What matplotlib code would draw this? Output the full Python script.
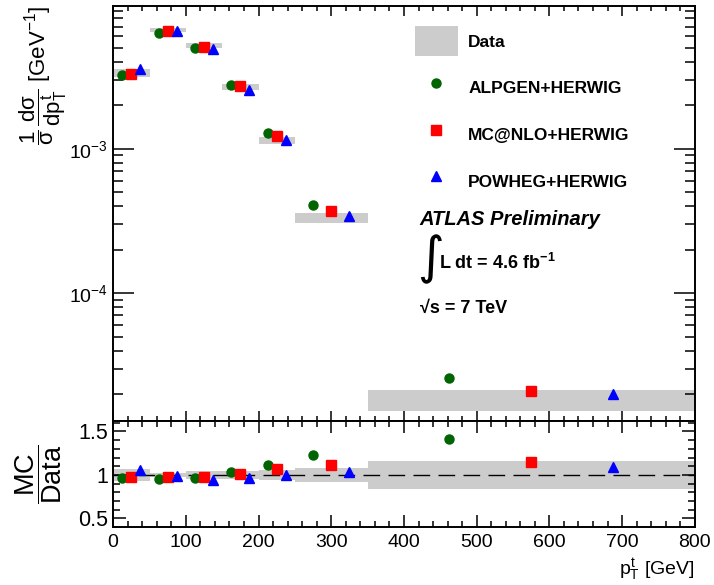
import numpy as np
import matplotlib
matplotlib.use('Agg')
import matplotlib.pyplot as plt
from matplotlib.patches import Patch
from matplotlib.lines import Line2D
from matplotlib.ticker import LogLocator, MultipleLocator, FixedLocator, NullFormatter

plt.rcParams['font.family'] = ['Liberation Sans', 'DejaVu Sans']
plt.rcParams['mathtext.fontset'] = 'custom'
plt.rcParams['mathtext.rm'] = 'Liberation Sans'
plt.rcParams['mathtext.it'] = 'Liberation Sans'
plt.rcParams['mathtext.sf'] = 'Liberation Sans'
plt.rcParams['mathtext.bf'] = 'Liberation Sans:bold'

# top-quark pT bins [GeV] and normalised cross section
bin_edges = [0, 50, 100, 150, 200, 250, 350, 800]
data_xsec = [3.37e-3, 6.65e-3, 5.19e-3, 2.67e-3, 1.144e-3, 3.33e-4, 1.83e-5]
data_relerr = [0.066, 0.027, 0.044, 0.046, 0.061, 0.083, 0.165]

# MC / Data
ratio_alpgen = [0.962, 0.954, 0.962, 1.031, 1.119, 1.234, 1.408]
ratio_mcatnlo = [0.981, 0.977, 0.977, 1.015, 1.069, 1.115, 1.146]
ratio_powheg = [1.061, 0.992, 0.946, 0.962, 1.000, 1.031, 1.088]

generators = [
    ('ALPGEN+HERWIG', ratio_alpgen, 'o', '#006400', 0.25),
    ('MC@NLO+HERWIG', ratio_mcatnlo, 's', '#ff0000', 0.50),
    ('POWHEG+HERWIG', ratio_powheg, '^', '#0000ff', 0.75),
]
band_color = '#cccccc'

edges = np.array(bin_edges, dtype=float)
lo = edges[:-1]
width = np.diff(edges)
xs = np.array(data_xsec)
err = np.array(data_relerr)

fig = plt.figure(figsize=(7.14, 5.85), dpi=100)
ax = fig.add_axes([0.1585, 0.2803, 0.8146, 0.7094])
axr = fig.add_axes([0.1585, 0.0991, 0.8146, 0.1812], sharex=ax)

# main panel
ax.bar(lo, 2 * err * xs, bottom=xs * (1 - err), width=width, align='edge',
       color=band_color, linewidth=0, zorder=1)
for name, ratio, mk, col, frac in generators:
    ax.plot(lo + frac * width, xs * np.array(ratio), ls='none', marker=mk,
            ms=7 if mk != 'o' else 6.5, color=col, mec=col, zorder=3)

ax.set_yscale('log')
ax.set_ylim(1.30e-5, 9.75e-3)
ax.set_xlim(0, 800)
ax.yaxis.set_major_locator(FixedLocator([1e-5, 1e-4, 1e-3, 1e-2]))
ax.yaxis.set_minor_locator(LogLocator(base=10, subs=np.arange(2, 10), numticks=20))
ax.yaxis.set_minor_formatter(NullFormatter())
ax.set_yticklabels([r'$10^{-5}$', r'$10^{-4}$', r'$10^{-3}$', r'$10^{-2}$'])
ax.xaxis.set_major_locator(MultipleLocator(100))
ax.xaxis.set_minor_locator(MultipleLocator(20))
ax.tick_params(which='both', direction='in', top=True, right=True, width=1.1,
               labelbottom=False, labelsize=14)
ax.tick_params(axis='y', which='major', length=15, pad=4)
ax.tick_params(axis='y', which='minor', length=7.5)
ax.tick_params(axis='x', which='major', length=7.2)
ax.tick_params(axis='x', which='minor', length=3.6)
ax.set_ylabel(r'$\dfrac{1}{\sigma}\,\dfrac{d\sigma}{dp^{t}_{T}}$ [GeV$^{-1}$]',
              fontsize=16, loc='top', labelpad=0)

# legend
handles = [Patch(facecolor=band_color, edgecolor='none', label='Data')]
for name, ratio, mk, col, frac in generators:
    handles.append(Line2D([], [], ls='none', marker=mk, color=col,
                          ms=7 if mk != 'o' else 6.5, label=name))
leg = ax.legend(handles=handles, loc='upper left', bbox_to_anchor=(0.519, 0.951),
                frameon=False, borderpad=0, borderaxespad=0,
                handlelength=2.47, handleheight=2.28,
                labelspacing=0.96, handletextpad=0.6,
                prop={'weight': 'bold', 'size': 12.5})

ax.text(0.526, 0.4723, 'ATLAS Preliminary', transform=ax.transAxes,
        fontsize=14.5, fontweight='bold', fontstyle='italic', va='baseline')
ax.text(0.522, 0.389, '\u222b', transform=ax.transAxes, fontsize=37,
        va='center', ha='left', family=['DejaVu Sans'])
ax.text(0.560, 0.3663, r'L dt = 4.6 fb$^{\mathbf{-1}}$', transform=ax.transAxes,
        fontsize=13, fontweight='bold', va='baseline')
ax.text(0.527, 0.261, '\u221as = 7 TeV', transform=ax.transAxes,
        fontsize=13, fontweight='bold', va='baseline')

# ratio panel
axr.bar(lo, 2 * err, bottom=1 - err, width=width, align='edge',
        color=band_color, linewidth=0, zorder=1)
axr.axhline(1.0, color='black', lw=1.0, dashes=(12, 6), zorder=2)
for name, ratio, mk, col, frac in generators:
    axr.plot(lo + frac * width, ratio, ls='none', marker=mk,
             ms=7 if mk != 'o' else 6.5, color=col, mec=col, zorder=3)

axr.set_ylim(0.4, 1.62)
axr.set_xlim(0, 800)
axr.yaxis.set_major_locator(FixedLocator([0.5, 1.0, 1.5]))
axr.set_yticklabels(['0.5', '1', '1.5'])
axr.yaxis.set_minor_locator(MultipleLocator(0.1))
axr.xaxis.set_major_locator(MultipleLocator(100))
axr.xaxis.set_minor_locator(MultipleLocator(20))
axr.tick_params(which='both', direction='in', top=True, right=True, width=1.1,
                labelsize=14)
axr.tick_params(axis='y', which='major', length=9.4, pad=3.6, labelsize=15.5)
axr.tick_params(axis='y', which='minor', length=4.8)
axr.tick_params(axis='x', which='major', length=8.6, pad=5)
axr.tick_params(axis='x', which='minor', length=4.3)
axr.set_ylabel(r'$\dfrac{\mathrm{MC}}{\mathrm{Data}}$', fontsize=19.5, labelpad=10)
axr.set_xlabel(r'$p^{t}_{T}$ [GeV]', fontsize=14, loc='right', labelpad=4)

for a in (ax, axr):
    for s in a.spines.values():
        s.set_linewidth(1.4)

fig.savefig('out.png', dpi=100)
